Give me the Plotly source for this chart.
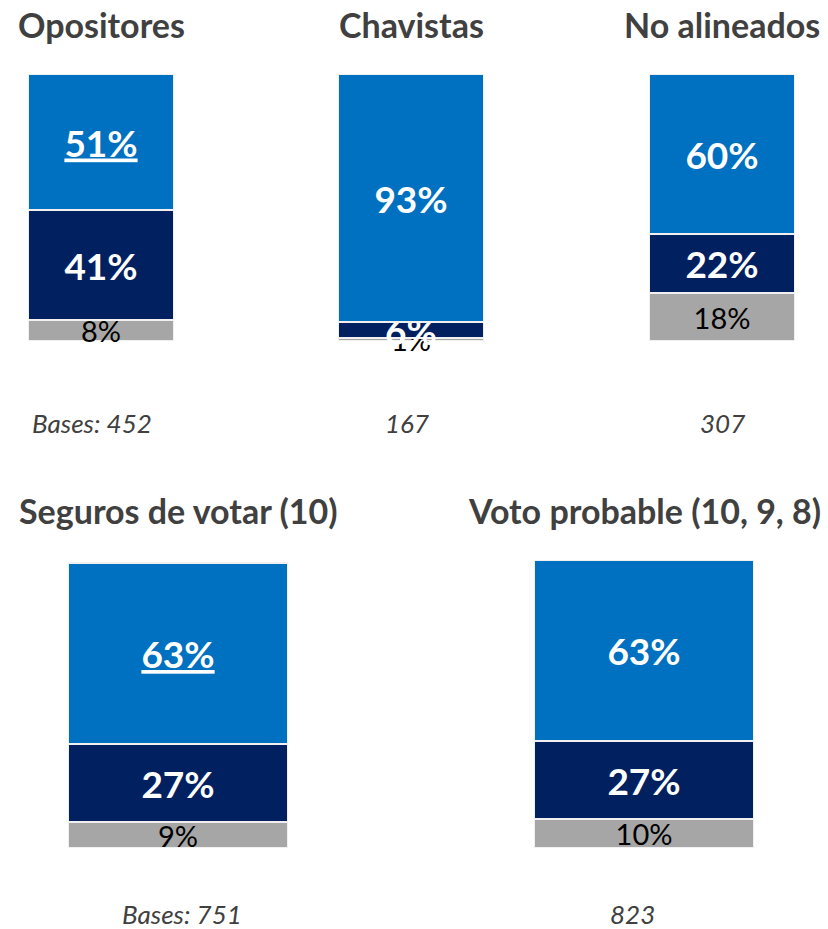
import plotly.graph_objects as go

# panels and stacked shares (bottom segment -> top segment)
panels = ["Opositores", "Chavistas", "No alineados", "Seguros de votar (10)", "Voto probable (10, 9, 8)"]
top_vals = [51, 93, 60, 63, 63]
mid_vals = [41, 6, 22, 27, 27]
low_vals = [8, 1, 18, 9, 10]
bases = ["Bases: 452", "167", "307", "Bases: 751", "823"]
underlined = [True, False, False, True, False]

W, H = 828, 929
FONT = "Lato"
TXT = "#404040"

# pixel boxes of each panel (x0, x1, y_top, y_bottom)
boxes = [(28, 174, 74, 341), (338, 484, 74, 341), (649, 795, 74, 341),
         (68, 288, 560, 848), (534, 754, 560, 848)]
title_y = [24, 24, 24, 511, 511]
base_y = [423, 423, 423, 914, 914]
base_x = [92, 407, 722, 182, 632]

fig = go.Figure()

for i, name in enumerate(panels):
    n = "" if i == 0 else str(i + 1)
    xa, ya = "x" + n, "y" + n
    segs = [
        (low_vals[i], "#A6A6A6", "black", "normal", False),
        (mid_vals[i], "#002060", "white", "bold", False),
        (top_vals[i], "#0070C0", "white", "bold", underlined[i]),
    ]
    for val, color, tcol, weight, ul in segs:
        label = f"{val}%"
        if ul:
            label = f"<u>{label}</u>"
        size = 37 if weight == "bold" else 29
        fig.add_trace(go.Bar(
            x=[name], y=[val], xaxis=xa, yaxis=ya,
            marker=dict(color=color, line=dict(color="#f0f0f0", width=2)),
            text=[label], textposition="inside", insidetextanchor="middle",
            constraintext="none", textangle=0, cliponaxis=False,
            textfont=dict(family=FONT, size=size, color=tcol, weight=weight),
            showlegend=False, hoverinfo="skip",
        ))

    x0, x1, yt, yb = boxes[i]
    fig.layout[("xaxis" + n)] = dict(domain=[x0 / W, x1 / W], visible=False,
                                     anchor=ya, fixedrange=True)
    fig.layout[("yaxis" + n)] = dict(domain=[1 - yb / H, 1 - yt / H], range=[0, 100],
                                     visible=False, anchor=xa, fixedrange=True)

    fig.add_annotation(text=f"<b>{name}</b>", xref="paper", yref="paper",
                       x=(x0 + x1) / 2 / W, y=1 - title_y[i] / H,
                       xanchor="center", yanchor="middle", showarrow=False,
                       font=dict(family=FONT, size=34, color=TXT))
    fig.add_annotation(text=f"<i>{bases[i]}</i>", xref="paper", yref="paper",
                       x=base_x[i] / W, y=1 - base_y[i] / H,
                       xanchor="center", yanchor="middle", showarrow=False,
                       font=dict(family=FONT, size=26, color=TXT))

fig.update_layout(
    width=W, height=H, barmode="stack", bargap=0,
    margin=dict(l=0, r=0, t=0, b=0),
    paper_bgcolor="white", plot_bgcolor="white",
)

fig.write_html("out.html", config={"displayModeBar": False},
               post_script="document.body.style.margin='0';document.body.style.overflow='hidden';")
